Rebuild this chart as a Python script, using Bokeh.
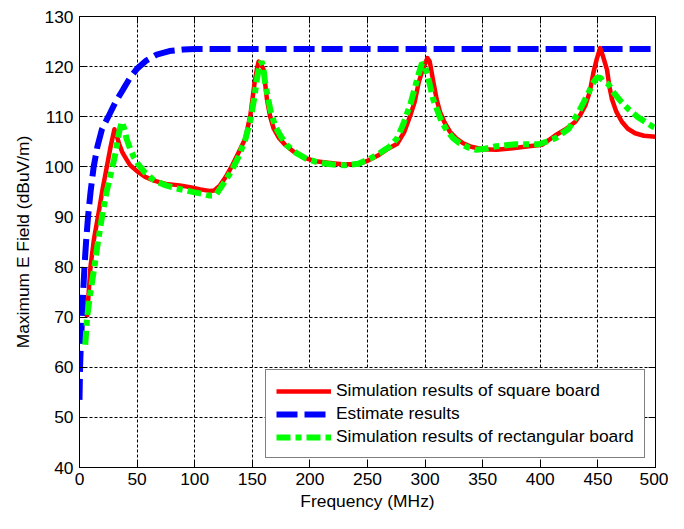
from bokeh.plotting import figure
from bokeh.models import FixedTicker, LinearAxis, Legend, LegendItem, Range1d
from bokeh.embed import file_html
from bokeh.resources import INLINE

# ---- data ----
x_ticks = [0, 50, 100, 150, 200, 250, 300, 350, 400, 450, 500]
y_ticks = [40, 50, 60, 70, 80, 90, 100, 110, 120, 130]

freq_estimate = [0, 0.5, 1.2, 2.3, 3.2, 4.3, 5.7, 7.4, 9.6, 12.3, 15.5, 19.5, 25, 31, 38, 44,
                 50, 58, 67, 78, 90, 100, 500]
field_estimate = [53.5, 60, 65, 70, 75, 80, 85, 90, 95, 100, 104, 107.5, 110, 112.8, 115.5, 117.8,
                  119.6, 121.2, 122.4, 123.1, 123.4, 123.5, 123.5]

freq_square = [6.5, 9.5, 12.5, 16, 20, 23.7, 27, 30.3, 32, 34.5, 37, 39.5, 44, 49.6, 57, 65.3,
               75, 87, 97, 105, 112.5, 117, 122, 127, 132.6, 138, 144, 148.3, 152, 154, 155.5,
               157.5, 159.8, 162.7, 165.5, 168.6, 173, 178.4, 186, 195.6, 205, 215.6, 228,
               241.4, 250, 258.6, 267, 275.8, 282, 287.2, 291, 294.4, 298, 302, 304, 307.3,
               310, 313, 317, 321.6, 327, 333, 340, 350, 362, 376, 390, 401.7, 413.2, 422,
               430.4, 435, 439, 443, 446.1, 449, 451.9, 454.5, 457.9, 460, 462.2, 466, 470.8,
               476, 482.3, 490, 500]
field_square = [70, 80, 85.5, 90, 95.5, 100, 104, 107.5, 106.5, 104.5, 103, 102, 100.3, 99.2, 98,
                97.2, 96.6, 96.3, 95.9, 95.5, 95.2, 95.3, 96.3, 98, 100.3, 102.8, 105.7, 110.3,
                116.8, 119.5, 121, 120.5, 119.4, 113.5, 110, 107.6, 105.8, 104.4, 103, 101.8,
                101.1, 100.8, 100.5, 100.5, 101.2, 102.2, 103.5, 104.6, 107, 110.3, 113, 116.8,
                119.5, 121.7, 121, 116.8, 113.5, 110.9, 108.8, 107, 105.7, 104.7, 104, 103.5,
                103.4, 103.7, 104.1, 104.4, 106.3, 107.5, 109, 110.5, 112.2, 115, 118.8, 121.5,
                123.7, 122, 119.4, 116, 113.5, 111, 109, 107.6, 106.7, 106.2, 106]

freq_rect = [5, 6.6, 9.5, 12.9, 16, 19.5, 23.5, 28.6, 31.5, 33.8, 36.6, 39, 41, 43.8, 47, 51, 57,
             65.3, 75, 84, 94, 100, 106.7, 112, 116, 119, 121, 126, 132, 138, 144, 148.5, 151.5,
             154, 156, 158, 159.5, 161, 163, 166, 170, 175, 180, 188, 197, 207, 218, 230, 242,
             252, 261, 269, 275.8, 281, 287.2, 292, 295, 297.3, 299.5, 302, 304.4, 307, 310.1,
             314, 318.7, 324, 330.1, 337, 344.5, 352, 361.7, 370, 378.9, 388, 398.7, 405, 413,
             418, 424.7, 428.5, 433.3, 437.5, 441.9, 445.5, 449, 452, 455, 459, 464, 470.5, 477,
             484.8, 491, 497.7, 500]
field_rect = [64.5, 70, 75, 80, 85, 90, 95, 100, 103, 106.3, 109, 107.5, 105.5, 103.7, 102, 100.5,
              98.8, 97.2, 96.3, 95.7, 95.2, 94.9, 94.6, 94.3, 94.3, 94.6, 95.3, 97, 99.2, 102,
              105.5, 109.5, 113.5, 117.5, 120, 121, 120, 117, 114.5, 111, 108, 106, 104.3, 102.8,
              101.6, 100.9, 100.5, 100.3, 100.6, 101.6, 102.8, 104, 105.7, 108.5, 112.5, 116.5,
              119, 120.7, 120.3, 118.5, 116.1, 113.5, 111.6, 109.2, 107.3, 105.8, 104.7, 103.9,
              103.4, 103.6, 104.1, 104.3, 104.5, 104.5, 104.5, 105, 105.7, 106.5, 107.6, 109.1,
              110.9, 112.8, 114.8, 116.6, 117.8, 117.8, 117, 116.5, 114.7, 112.9, 111.4, 109.9,
              109, 108, 107.8]

labels = ["Simulation results of square board", "Estimate results",
          "Simulation results of rectangular board"]

FONT = "Liberation Sans"
FS = "17.4px"

p = figure(width=668, height=513, output_backend="svg", toolbar_location=None,
           x_range=Range1d(0, 500), y_range=Range1d(40, 130),
           min_border_left=79, min_border_right=13, min_border_top=16, min_border_bottom=45,
           background_fill_color="white", border_fill_color="white")

p.outline_line_color = "black"
p.outline_line_width = 1

for ax in (p.xaxis[0], p.yaxis[0]):
    ax.axis_line_color = "black"
    ax.major_tick_line_color = "black"
    ax.major_tick_in = 7
    ax.major_tick_out = 0
    ax.minor_tick_line_color = None
    ax.major_label_text_font = FONT
    ax.major_label_text_font_size = FS
    ax.major_label_text_color = "black"
    ax.axis_label_text_font = FONT
    ax.axis_label_text_font_size = FS
    ax.axis_label_text_font_style = "normal"
    ax.axis_label_text_color = "black"

p.xaxis[0].ticker = FixedTicker(ticks=x_ticks)
p.yaxis[0].ticker = FixedTicker(ticks=y_ticks)
p.xaxis[0].axis_label = "Frequency (MHz)"
p.yaxis[0].axis_label = "Maximum E Field (dBuV/m)"
p.xaxis[0].major_label_standoff = 5
p.xaxis[0].axis_label_standoff = 3
p.yaxis[0].major_label_standoff = 6
p.yaxis[0].axis_label_standoff = 8

# mirrored axes (ticks only, labels not painted) on top and right
top = LinearAxis(ticker=FixedTicker(ticks=x_ticks), major_label_text_font_size="1px",
                 major_label_text_color=None,
                 major_tick_in=7, major_tick_out=0, major_label_standoff=0,
                 minor_tick_line_color=None, axis_line_color="black")
right = LinearAxis(ticker=FixedTicker(ticks=y_ticks), major_label_text_font_size="1px",
                   major_label_text_color=None,
                   major_tick_in=7, major_tick_out=0, major_label_standoff=0,
                   minor_tick_line_color=None, axis_line_color="black")
p.add_layout(top, "above")
p.add_layout(right, "right")

p.xgrid.ticker = FixedTicker(ticks=x_ticks)
p.ygrid.ticker = FixedTicker(ticks=y_ticks)
for g in (p.xgrid, p.ygrid):
    g.grid_line_color = "black"
    g.grid_line_dash = "3 2"
    g.grid_line_width = 1
    g.grid_line_alpha = 1

r_blue = p.line(freq_estimate, field_estimate, line_color="#0000FF", line_width=6,
                line_dash="21 7")
r_red = p.line(freq_square, field_square, line_color="#FF0000", line_width=4.5,
               line_join="round")
r_green = p.line(freq_rect, field_rect, line_color="#00FF00", line_width=6,
                 line_dash="14 5 6 5")

legend = Legend(items=[LegendItem(label=labels[0], renderers=[r_red]),
                       LegendItem(label=labels[1], renderers=[r_blue]),
                       LegendItem(label=labels[2], renderers=[r_green])],
                location=(186, 9))
legend.margin = 0
legend.padding = 10
legend.spacing = 2
legend.glyph_width = 55
legend.glyph_height = 20
legend.label_height = 20
legend.label_standoff = 5
legend.label_text_font = FONT
legend.label_text_font_size = FS
legend.label_text_color = "black"
legend.border_line_color = "black"
legend.border_line_width = 1
legend.background_fill_color = "white"
legend.background_fill_alpha = 1
p.add_layout(legend)

open("out.html", "w").write(file_html(p, INLINE))
